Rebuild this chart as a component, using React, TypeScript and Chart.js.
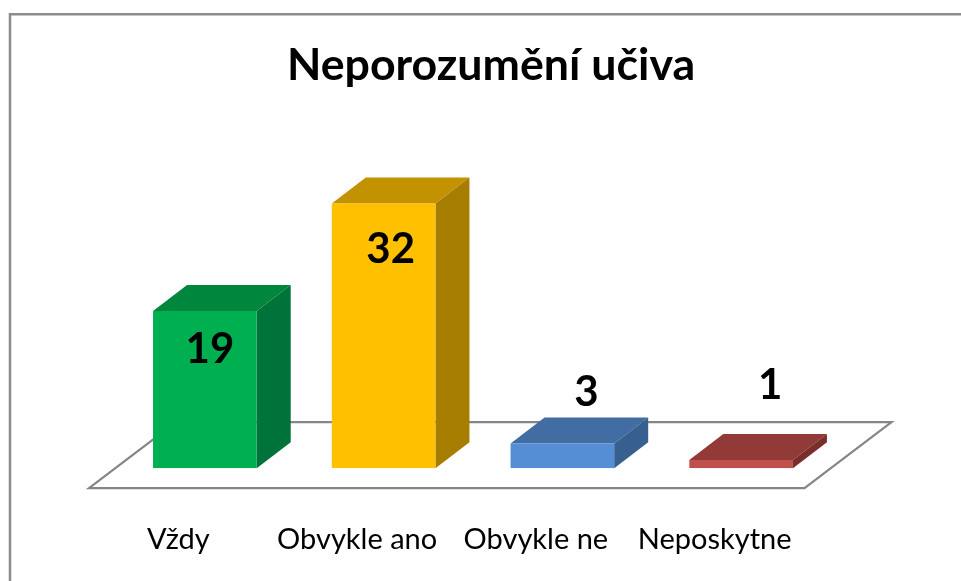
import React, { useEffect, useRef } from "react";
import { Chart, registerables } from "chart.js";

Chart.register(...registerables);

const title = "Neporozumění učiva";
const categories = ["Vždy", "Obvykle ano", "Obvykle ne", "Neposkytne"];
const values = [19, 32, 3, 1];
const frontColors = ["#00B050", "#FFC000", "#558ED5", "#C0504D"];
const topColors = ["#00863D", "#C29200", "#416DA3", "#923A38"];
const sideColors = ["#00733A", "#A67D00", "#375F8F", "#7A2E2C"];
const labelOffsets = [[5, 38], [7, 46], [24, -51], [29, -74]];

const DEPTH_X = 34;
const DEPTH_Y = 26;
const FONT = "Lato";

const poly = (ctx: CanvasRenderingContext2D, pts: number[][], fill: string) => {
  ctx.beginPath();
  pts.forEach(([x, y], i) => (i ? ctx.lineTo(x, y) : ctx.moveTo(x, y)));
  ctx.closePath();
  ctx.fillStyle = fill;
  ctx.fill();
};

const scene = {
  id: "scene",
  afterLayout(chart: any) {
    chart.titleBlock.left = 0;
    chart.titleBlock.right = 982;
  },
  beforeDatasetsDraw(chart: any) {
    const { ctx, chartArea: a } = chart;
    ctx.save();
    ctx.strokeStyle = "#8C8C8C";
    ctx.lineWidth = 2.5;
    ctx.beginPath();
    ctx.moveTo(10, 581);
    ctx.lineTo(10, 14.3);
    ctx.lineTo(961, 14.3);
    ctx.stroke();

    ctx.strokeStyle = "#868686";
    ctx.lineWidth = 2.2;
    ctx.lineJoin = "miter";
    ctx.beginPath();
    const l = a.left - 26.5, r = a.right - 26, front = a.bottom + 20;
    ctx.moveTo(l, front);
    ctx.lineTo(r, front);
    ctx.lineTo(r + 87, front - 66);
    ctx.lineTo(l + 87, front - 66);
    ctx.closePath();
    ctx.stroke();

    const meta = chart.getDatasetMeta(0);
    meta.data.forEach((bar: any, i: number) => {
      const { x, y, base, width } = bar.getProps(["x", "y", "base", "width"], true);
      const x0 = x - width / 2, x1 = x + width / 2;
      poly(ctx, [[x0, y], [x1, y], [x1 + DEPTH_X, y - DEPTH_Y], [x0 + DEPTH_X, y - DEPTH_Y]], topColors[i]);
      poly(ctx, [[x1, y], [x1 + DEPTH_X, y - DEPTH_Y], [x1 + DEPTH_X, base - DEPTH_Y], [x1, base]], sideColors[i]);
    });
    ctx.restore();
  },
  afterDatasetsDraw(chart: any) {
    const { ctx } = chart;
    const meta = chart.getDatasetMeta(0);
    ctx.save();
    ctx.fillStyle = "#000";
    ctx.font = `bold 42px ${FONT}`;
    ctx.textAlign = "center";
    ctx.textBaseline = "middle";
    meta.data.forEach((bar: any, i: number) => {
      const [dx, dy] = labelOffsets[i];
      ctx.fillText(String(values[i]), bar.x + dx, bar.y + dy);
    });
    ctx.restore();
  },
};

export default function App() {
  const ref = useRef<HTMLCanvasElement>(null);
  useEffect(() => {
    const chart = new Chart(ref.current!, {
      type: "bar",
      data: {
        labels: categories,
        datasets: [{
          data: values,
          backgroundColor: frontColors,
          borderWidth: 0,
          barPercentage: 0.58,
          categoryPercentage: 1,
        }],
      },
      options: {
        animation: false,
        responsive: false,
        layout: { padding: { left: 115.5, right: 130.5, top: 0, bottom: 24 } },
        plugins: {
          legend: { display: false },
          tooltip: { enabled: false },
          title: {
            display: true,
            text: title,
            color: "#000",
            font: { family: FONT, size: 44.7, weight: "bold" },
            padding: { top: 39, bottom: 3.4 },
          },
        },
        scales: {
          x: {
            grid: { display: false, tickLength: 54 },
            border: { display: false },
            ticks: {
              color: "#000",
              font: { family: FONT, size: 29 },
              padding: 0,
              labelOffset: -26.5,
              maxRotation: 0,
              minRotation: 0,
              autoSkip: false,
            },
          },
          y: { display: false, min: 0, max: 45 },
        },
      },
      plugins: [scene],
    } as any);
    return () => chart.destroy();
  }, []);
  return (
    <div style={{ position: "absolute", left: 0, top: 0, width: 961, height: 581, background: "#fff" }}>
      <canvas ref={ref} width={961} height={581} style={{ display: "block" }} />
    </div>
  );
}
